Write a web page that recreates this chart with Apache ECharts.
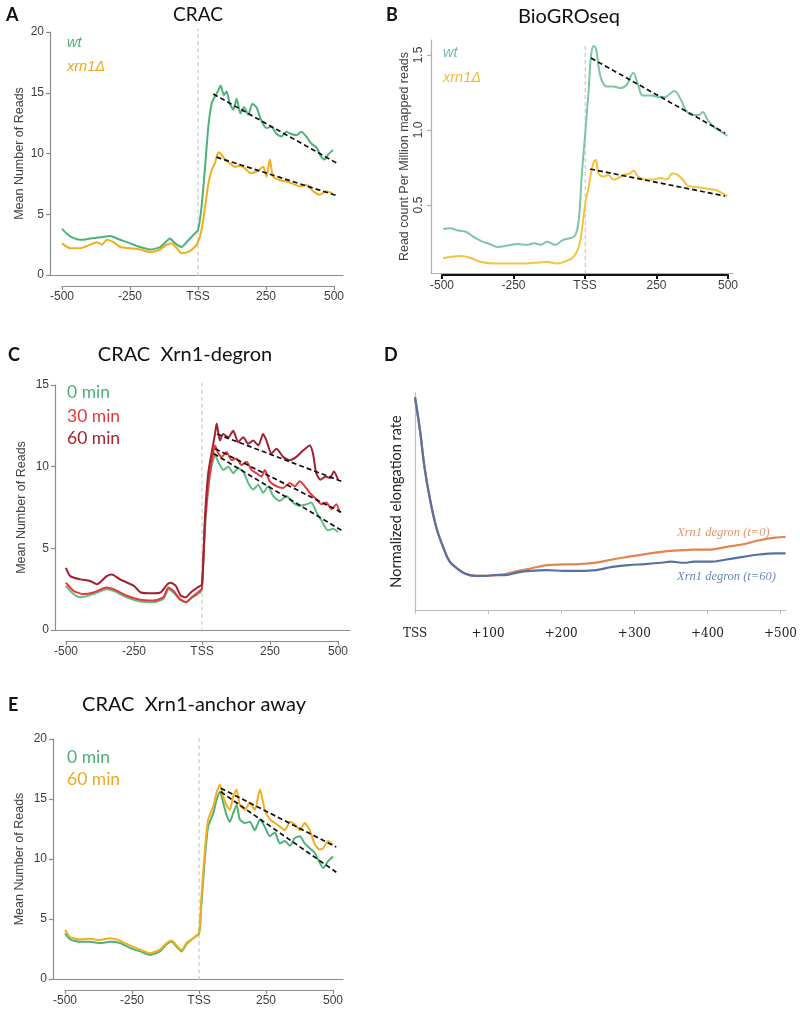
<!DOCTYPE html>
<html><head><meta charset="utf-8">
<script src="https://cdn.jsdelivr.net/npm/echarts@6/dist/echarts.min.js"></script>
<style>html,body{margin:0;padding:0;background:#fff}#c{width:800px;height:1009px}</style>
</head><body><div id="c"></div>
<script>
// ---------- Panel A: CRAC ----------
const A_X_WT = [-500,-482,-463,-433,-396,-359,-323,-286,-249,-213,-176,-139,-115,-103,-84,-60,-42,-17,0,13,26,38,50,62,75,83,95,105,117,130,142,156,169,185,200,215,233,252,270,289,307,325,343,362,380,398,417,435,454,466,478,496];
const A_WT = [3.8,3.4,3.1,2.9,3.0,3.1,3.2,2.9,2.6,2.3,2.1,2.3,2.8,3.0,2.6,2.3,2.7,3.3,3.7,5.6,8.9,12.2,14.1,14.7,15.2,15.6,14.8,15.1,14.1,13.6,14.5,13.3,13.8,13.2,14.1,13.8,12.7,12.1,12.2,11.6,11.4,11.8,11.6,11.5,11.8,11.4,10.8,10.5,9.7,9.5,9.9,10.3];
const A_X_XRN = [-500,-470,-433,-396,-372,-353,-335,-310,-286,-249,-213,-176,-139,-115,-96,-78,-60,-35,-12,0,13,26,38,50,62,75,87,99,117,136,154,172,191,215,240,252,264,276,301,325,350,374,398,423,447,472,496];
const A_XRN = [2.6,2.2,2.2,2.5,2.7,2.5,2.9,2.7,2.3,2.2,2.1,1.9,2.1,2.5,2.6,2.2,1.8,1.9,2.3,2.7,3.7,5.6,7.5,8.6,9.2,10.1,9.9,9.5,9.2,8.9,9.0,8.8,8.4,8.5,8.9,8.1,9.5,8.1,7.8,7.7,7.5,7.3,7.4,6.9,6.6,6.9,6.7];
const A_TREND_WT = [[56,14.9],[515,9.15]];
const A_TREND_XRN = [[68,9.7],[515,6.5]];
const A_Y_TICKS = [0,5,10,15,20];

// ---------- Panel B: BioGROseq ----------
const B_X_WT = [-500,-477,-448,-419,-395,-366,-337,-308,-273,-238,-203,-180,-157,-134,-105,-81,-52,-35,-23,-12,0,12,20,29,38,47,58,76,99,122,145,169,186,203,233,256,279,297,314,337,355,378,401,413,430,453,477,500];
const B_WT = [0.34,0.345,0.33,0.32,0.29,0.26,0.24,0.22,0.23,0.24,0.235,0.245,0.235,0.255,0.235,0.265,0.28,0.30,0.40,0.71,0.98,1.27,1.49,1.56,1.54,1.42,1.33,1.29,1.29,1.28,1.30,1.38,1.30,1.23,1.23,1.22,1.22,1.24,1.26,1.20,1.13,1.10,1.10,1.12,1.07,1.02,0.99,0.96];
const B_X_XRN = [-500,-471,-436,-401,-366,-320,-273,-227,-180,-134,-99,-64,-41,-23,-12,0,12,20,29,37,47,64,81,99,116,134,157,169,186,209,238,267,285,308,326,343,360,390,424,459,500];
const B_XRN = [0.145,0.155,0.16,0.145,0.12,0.11,0.11,0.11,0.115,0.12,0.11,0.13,0.155,0.22,0.33,0.51,0.62,0.71,0.78,0.80,0.71,0.69,0.70,0.67,0.68,0.70,0.71,0.73,0.69,0.67,0.67,0.68,0.67,0.71,0.70,0.67,0.63,0.62,0.61,0.60,0.56];
const B_TREND_WT = [[20,1.48],[492,0.98]];
const B_TREND_XRN = [[17,0.74],[492,0.56]];
const B_Y_TICKS = [0.5,1.0,1.5];

// ---------- Panel C: CRAC Xrn1-degron ----------
const C_X_60 = [-500,-484,-447,-411,-386,-350,-331,-301,-250,-225,-176,-152,-127,-115,-96,-78,-60,-41,-17,0,11,23,35,48,54,66,78,97,115,133,152,170,188,207,225,237,255,274,298,323,347,372,396,408,420,435,455,470,485,500];
const C_60 = [3.8,3.3,3.1,3.0,2.8,3.3,3.4,3.1,2.7,2.3,2.25,2.3,2.8,2.9,2.7,2.1,2.0,2.3,2.6,2.8,6.9,9.6,10.8,12.0,12.65,11.6,12.0,11.8,12.2,11.5,11.8,11.4,11.6,11.3,12.0,11.6,10.8,11.1,10.6,10.4,10.6,11.0,11.3,10.8,9.6,9.2,9.4,9.3,9.7,9.2];
const C_X_30 = [-500,-472,-435,-399,-350,-325,-276,-227,-178,-142,-123,-105,-81,-59,-38,-7,0,11,23,35,48,60,72,90,109,127,145,164,182,200,219,231,249,274,298,323,341,359,378,396,421,439,457,476,494,506];
const C_30 = [2.9,2.4,2.2,2.3,2.6,2.5,2.1,1.85,1.8,2.0,2.6,2.4,1.9,1.7,2.0,2.4,2.6,6.5,8.8,10.2,11.3,10.8,10.6,10.9,10.4,10.5,10.1,10.3,9.8,9.6,9.4,9.8,9.1,8.8,8.7,9.0,8.8,9.1,8.8,8.4,8.0,7.7,7.8,7.4,7.7,7.2];
const C_X_0 = [-500,-472,-447,-399,-350,-325,-276,-227,-178,-142,-123,-105,-81,-59,-38,-7,0,11,23,35,48,60,78,97,115,133,152,170,188,207,225,243,262,286,310,335,359,384,402,421,439,463,482,500];
const C_0 = [2.7,2.2,2.0,2.2,2.5,2.4,2.0,1.75,1.7,1.9,2.5,2.3,1.85,1.7,1.95,2.3,2.5,6.1,8.6,10.0,10.7,10.3,9.8,10.0,9.6,9.9,9.7,9.0,8.6,8.9,8.4,8.8,8.2,7.9,8.2,7.8,7.6,7.7,7.8,7.2,6.7,6.1,6.2,6.0];
const C_TREND_60 = [[55,12.0],[513,9.1]];
const C_TREND_30 = [[49,11.1],[513,7.2]];
const C_TREND_0 = [[43,10.8],[513,6.1]];

// ---------- Panel D: normalized elongation rate ----------
const D_X = [0,7,13,20,29,38,47,58,69,83,96,109,123,141,158,181,203,225,248,270,292,315,337,350,368,382,404,426,449,471,493,507];
const D_T60 = [100,84,67,53,39,30,23,19.5,17,16,16,16.4,16.4,17.7,18.4,18.75,18.4,18.4,18.75,20.3,21.1,21.6,22.2,22.7,22.2,22.7,22.7,23.75,25,26.1,26.6,26.6];
const D_T0 = [100,84,67,53,39,30,23,19.5,17,16,16,16.4,16.9,18.4,19.5,21.1,21.4,21.6,22.3,23.75,25,26.25,27.3,27.8,28.1,28.4,28.4,29.7,30.9,32.8,34,34.4];
const D_X_TICKS = [0,100,200,300,400,500];

// ---------- Panel E: CRAC Xrn1-anchor away ----------
const E_X = [-500,-481,-444,-407,-370,-332,-295,-258,-220,-183,-146,-121,-102,-84,-65,-47,-22,0,9,22,34,53,65,78,90,102,115,127,140,152,171,189,208,227,245,264,283,301,320,339,357,376,394,413,432,450,463,481,500];
const E_0 = [3.8,3.3,3.1,3.1,3.0,3.1,3.0,2.6,2.3,2.0,2.3,2.9,3.1,2.7,2.3,2.9,3.4,3.8,6.3,10.2,12.7,13.8,14.9,15.6,14.7,13.7,13.1,13.8,14.5,13.3,13.0,13.1,12.4,13.3,12.7,11.9,12.2,11.3,11.5,11.1,11.75,11.9,11.3,10.9,10.5,9.7,9.25,9.8,10.2];
const E_60 = [4.1,3.5,3.3,3.35,3.25,3.4,3.2,2.8,2.45,2.15,2.45,3.0,3.2,2.8,2.4,3.0,3.4,3.9,6.9,10.8,13.3,14.4,15.5,16.2,15.2,14.5,14.1,15.2,15.8,14.5,14.1,14.7,14.1,15.8,14.1,13.3,13.0,12.7,12.4,13.1,12.9,12.4,13.0,12.4,11.2,10.8,10.9,11.5,11.2];
const E_TREND_60 = [[81,15.9],[512,11.0]];
const E_TREND_0 = [[81,15.6],[512,8.9]];

const X_TICKS = [-500,-250,0,250,500];

// ---------- build ----------
const AX = '#8c8c8c', LBL = '#3c3c3c', SANS = 'Liberation Sans';
const GREEN = '#4DB27A', ORANGE = '#F2AE1C';
const grid = [], xAxis = [], yAxis = [], series = [];

function cart(g, xa, ya) {
  const i = grid.length; grid.push(g);
  xa.gridIndex = i; ya.gridIndex = i; xAxis.push(xa); yAxis.push(ya); return i;
}
function frameX(min, max, color) {
  return {type:'value', min, max, axisLine:{show:true, onZero:false, lineStyle:{color, width:1.2}},
    axisTick:{show:false}, axisLabel:{show:false}, splitLine:{show:false}};
}
function valY(min, max, ticks, name, gap, color, opts) {
  opts = opts || {};
  return {type:'value', min, max,
    axisLine:{show:true, onZero:false, lineStyle:{color, width:1.2}},
    axisTick:{show:true, length:4, customValues:ticks, lineStyle:{color, width:1.2}},
    axisLabel:{customValues:ticks, color:LBL, fontSize:12, fontFamily:SANS, margin:opts.margin||6, rotate:opts.rotate||0,
      formatter:opts.fmt || (v => String(v))},
    splitLine:{show:false},
    name, nameLocation:'middle', nameGap:gap,
    nameTextStyle:{color:'#444', fontSize:12.5, fontFamily:SANS}};
}
function detached(left, width, top, color, w) {
  return cart({left, width, top, height:1},
    {type:'value', min:-500, max:500, position:'bottom',
     axisLine:{show:true, onZero:false, lineStyle:{color, width:w}},
     axisTick:{show:true, length:4, customValues:X_TICKS, lineStyle:{color, width:w}},
     axisLabel:{customValues:X_TICKS, color:LBL, fontSize:12, fontFamily:SANS, margin:5,
       formatter:v => v === 0 ? 'TSS' : String(v)},
     splitLine:{show:false}},
    {type:'value', min:0, max:1, show:false});
}
function line(idx, xs, ys, color, width, smooth) {
  series.push({type:'line', xAxisIndex:idx, yAxisIndex:idx, data:xs.map((x,i)=>[x, ys[i]]),
    showSymbol:false, symbol:'none', smooth:smooth==null?0.2:smooth,
    lineStyle:{color, width:width||2}, itemStyle:{color}, silent:true, z:3});
}
function trend(idx, seg) {
  series.push({type:'line', xAxisIndex:idx, yAxisIndex:idx, data:seg, showSymbol:false, symbol:'none',
    lineStyle:{color:'#111', width:1.7, type:[5,3]}, silent:true, z:6});
}
function tss(idx, y0, y1) {
  series.push({type:'line', xAxisIndex:idx, yAxisIndex:idx, data:[[0,y0],[0,y1]], showSymbol:false, symbol:'none',
    clip:false, lineStyle:{color:'#c9c9c9', width:1.2, type:[4,3]}, silent:true, z:1});
}

// Panel A
const iA = cart({left:50, top:32, width:293, height:243}, frameX(-544, 533, AX),
  valY(0, 20, A_Y_TICKS, 'Mean Number of Reads', 24, AX));
detached(62, 272, 285, AX, 1.2);
tss(iA, -0.1, 20.3);
line(iA, A_X_WT, A_WT, GREEN);
line(iA, A_X_XRN, A_XRN, ORANGE);
trend(iA, A_TREND_WT); trend(iA, A_TREND_XRN);

// Panel B
const iB = cart({left:431, top:40, width:302, height:233}, frameX(-543, 520, '#b0b0b0'),
  valY(0.047, 1.6, B_Y_TICKS, 'Read count Per Million mapped reads', 20, '#b0b0b0',
    {rotate:90, margin:6, fmt:v => v.toFixed(1)}));
detached(442, 286, 274, '#111', 2);
tss(iB, 0.04, 1.58);
line(iB, B_X_WT, B_WT, '#7CC6A0', 2, 0.4);
line(iB, B_X_XRN, B_XRN, '#F5C242', 2, 0.4);
trend(iB, B_TREND_WT); trend(iB, B_TREND_XRN);

// Panel C
const iC = cart({left:55, top:385, width:295, height:245}, frameX(-540, 544, AX),
  valY(0, 15, [0,5,10,15], 'Mean Number of Reads', 27, AX));
detached(66, 272, 640, AX, 1.2);
tss(iC, -0.1, 15.3);
line(iC, C_X_0, C_0, '#5DBE7E');
line(iC, C_X_30, C_30, '#E8383D');
line(iC, C_X_60, C_60, '#A0222F');
trend(iC, C_TREND_60); trend(iC, C_TREND_30); trend(iC, C_TREND_0);

// Panel D
const iD = cart({left:415, top:393, width:378, height:217},
  {type:'value', min:0, max:507, axisLine:{show:true, onZero:false, lineStyle:{color:'#bdbdbd', width:1.2}},
   axisTick:{show:true, length:4, customValues:D_X_TICKS, lineStyle:{color:'#bdbdbd'}},
   axisLabel:{customValues:D_X_TICKS, color:'#222', fontSize:12, fontFamily:'DejaVu Serif', margin:18,
     formatter:v => v === 0 ? 'TSS' : '+' + v}, splitLine:{show:false}},
  {type:'value', min:0, max:102, axisLine:{show:true, onZero:false, lineStyle:{color:'#bdbdbd', width:1.2}},
   axisTick:{show:false}, axisLabel:{show:false}, splitLine:{show:false},
   name:'Normalized elongation rate', nameLocation:'middle', nameGap:11,
   nameTextStyle:{color:'#222', fontSize:14.5, fontFamily:'Lato'}});
line(iD, D_X, D_T0, '#E0864E', 2.2, 0.4);
line(iD, D_X, D_T60, '#5870A6', 2.2, 0.4);

// Panel E
const iE = cart({left:53, top:739, width:290, height:240}, frameX(-545, 537, AX),
  valY(0, 20, A_Y_TICKS, 'Mean Number of Reads', 27, AX));
detached(65, 268, 989, AX, 1.2);
tss(iE, -0.1, 20.3);
line(iE, E_X, E_0, GREEN);
line(iE, E_X, E_60, ORANGE);
trend(iE, E_TREND_60); trend(iE, E_TREND_0);

function txt(text, x, y, font, fill, align) {
  return {type:'text', x, y, silent:true, z:10,
    style:{text, font, fill, textAlign:align||'left', align:align||'left', textVerticalAlign:'middle', verticalAlign:'middle'}};
}
const LETTER = 'bold 18px Lato';
const graphic = [
  txt('A', 6, 15, LETTER, '#111'), txt('B', 386, 15, LETTER, '#111'),
  txt('C', 8, 355, LETTER, '#111'), txt('D', 384, 355, LETTER, '#111'),
  txt('E', 8, 705, LETTER, '#111'),
  txt('CRAC', 198, 15, '19px Lato', '#111', 'center'),
  txt('BioGROseq', 569, 17, '20px Lato', '#111', 'center'),
  txt('CRAC  Xrn1-degron', 185, 355, '20px Lato', '#111', 'center'),
  txt('CRAC  Xrn1-anchor away', 194, 705, '20px Lato', '#111', 'center'),
  txt('wt', 67, 43, 'italic 14.5px Liberation Sans', '#4CAF74'),
  txt('xrn1\u0394', 67, 67, 'italic 14.5px Liberation Sans', '#F0A820'),
  txt('wt', 443, 53, 'italic 14.5px Liberation Sans', '#6FC096'),
  txt('xrn1\u0394', 443, 78, 'italic 14.5px Liberation Sans', '#F2B93A'),
  txt('0 min', 67, 392, '17.5px Lato', '#4CAF74'),
  txt('30 min', 67, 416, '17.5px Lato', '#E53935'),
  txt('60 min', 67, 438, '17.5px Lato', '#9E2430'),
  txt('0 min', 67, 757, '17.5px Lato', '#4CAF74'),
  txt('60 min', 67, 779, '17.5px Lato', '#F0A820'),
  txt('Xrn1 degron (t=0)', 677, 533, 'italic 12.5px Liberation Serif', '#E8956A'),
  txt('Xrn1 degron (t=60)', 677, 577, 'italic 12.5px Liberation Serif', '#6A86C0')
];

const chart = echarts.init(document.getElementById('c'), null, {renderer:'canvas'});
chart.setOption({animation:false, backgroundColor:'#fff', grid, xAxis, yAxis, series, graphic});
</script></body></html>
